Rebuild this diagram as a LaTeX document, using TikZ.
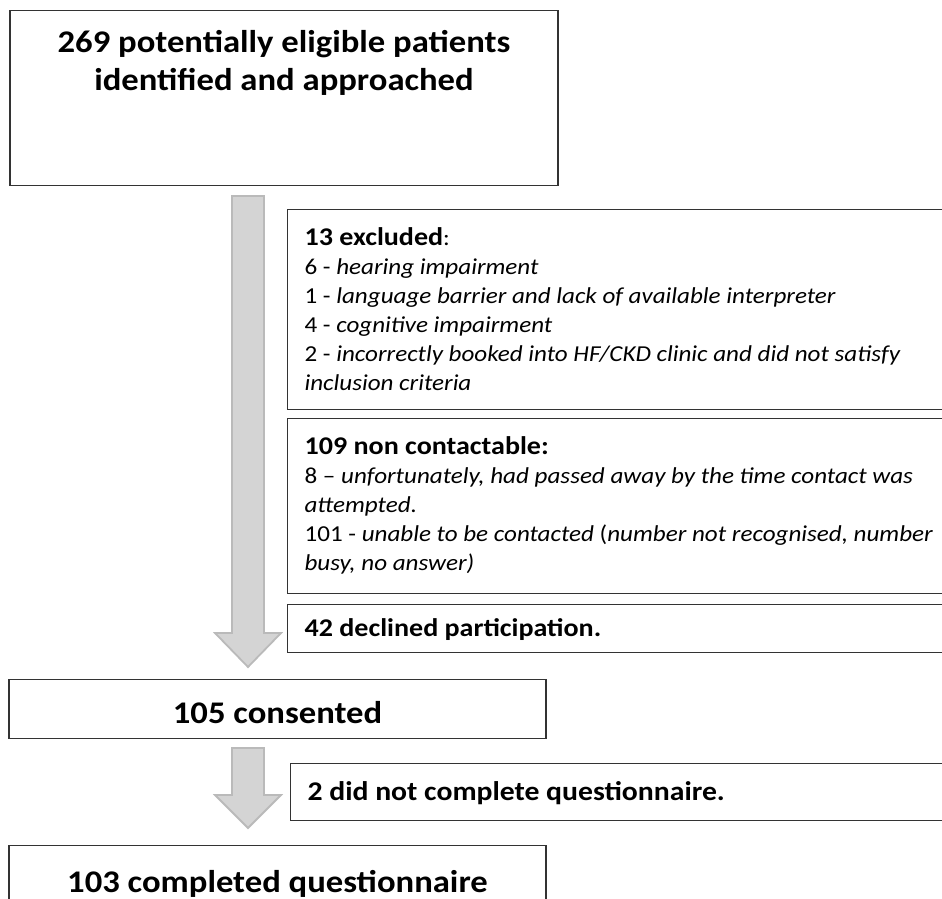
\documentclass[tikz,border=0pt]{standalone}
\usepackage{fontspec}
\setmainfont{Carlito}[FakeStretch=1.1]
\usetikzlibrary{positioning}
\newcommand{\headfont}{\bfseries\fontsize{25.5}{29}\selectfont}
\tikzset{x=1pt,y=-1pt,%
  box/.style={draw=black!80,line width=1.2pt,inner sep=0pt,align=center,
    font=\bfseries\fontsize{31.5}{38}\selectfont},
  sidebox/.style={draw=black!80,line width=1.2pt,anchor=north west,
    inner xsep=17pt,inner ysep=0pt,align=flush left,text width=700pt,
    font=\fontsize{22.8}{29}\selectfont},
  blockarrow/.style={fill=black!17,draw=black!27,line width=1.8pt,line join=miter}}
% x, top, head start, tip
\newcommand{\flowarrow}[4]{%
  \draw[blockarrow] ({#1-16},#2) -- ({#1+16},#2) -- ({#1+16},#3) -- ({#1+33},#3)
    -- (#1,#4) -- ({#1-33},#3) -- ({#1-16},#3) -- cycle;}

\begin{document}
\begin{tikzpicture}
  \clip (0,0) rectangle (942,899);
  \node[box,anchor=north,minimum width=548pt,text height=80pt,text depth=95pt]
    (identified) at (284,10) {269 potentially eligible patients\\identified and approached};
  \flowarrow{248}{196}{633}{667}
  \node[sidebox,text height=36pt,text depth=164pt] (excluded) at (287,209)
    {{\headfont 13 excluded}:\\
     6 - \textit{hearing impairment}\\
     1 - \textit{language barrier and lack of available interpreter}\\
     4 - \textit{cognitive impairment}\\
     2 - \textit{incorrectly booked into HF/CKD clinic and did not satisfy}\\
     \textit{inclusion criteria}};
  \node[sidebox,text height=36pt,text depth=139pt] (noncontact) at (287,418)
    {{\headfont 109 non contactable:}\\
     8 – \textit{unfortunately, had passed away by the time contact was}\\
     \textit{attempted.}\\
     101 - \textit{unable to be contacted} (\textit{number not recognised, number}\\
     \textit{busy, no answer)}};
  \node[sidebox,text height=32pt,text depth=16pt] (declined) at (287,604)
    {\headfont 42 declined participation.};
  \node[box,anchor=north,minimum width=537pt,text height=44pt,text depth=15pt]
    (consented) at (277.5,679) {105 consented};
  \flowarrow{248}{748}{795}{828}
  \node[sidebox,text height=37pt,text depth=20pt] (notcomplete) at (290,763)
    {\bfseries\fontsize{27}{29}\selectfont 2 did not complete questionnaire.};
  \node[box,anchor=north,minimum width=537pt,text height=47pt,text depth=20pt]
    (completed) at (277.5,845) {103 completed questionnaire};
\end{tikzpicture}
\end{document}
